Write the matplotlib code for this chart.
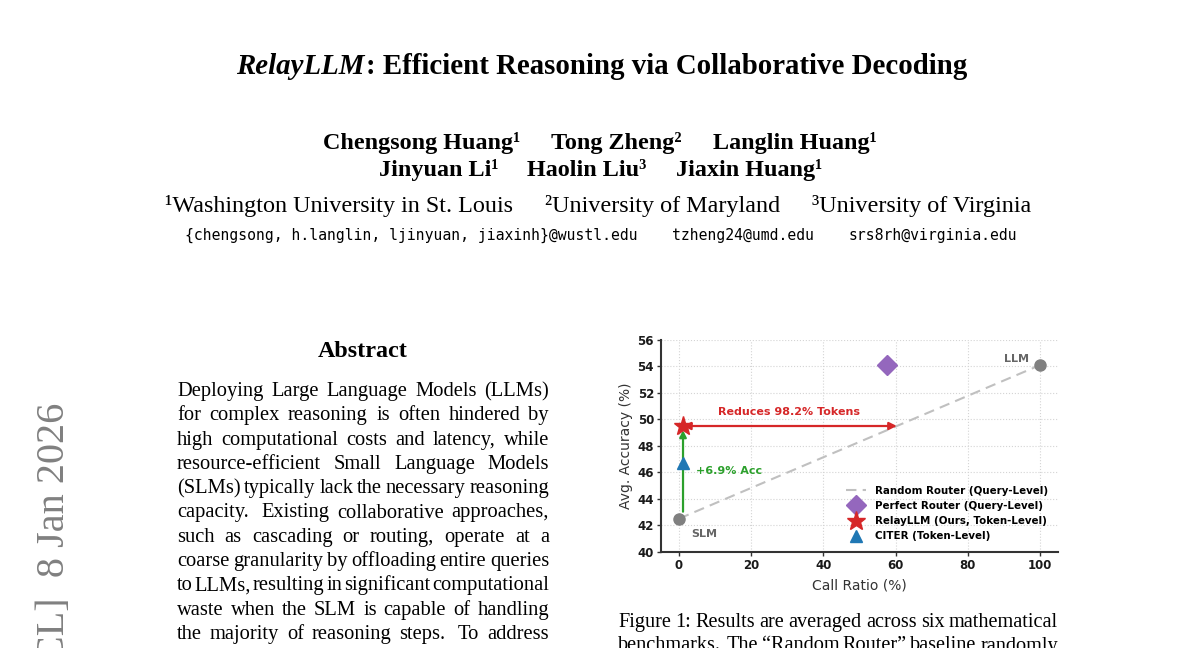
import matplotlib
matplotlib.use('Agg')
import matplotlib.pyplot as plt

W, H = 1200, 648

# ---- chart data ----
slm_llm_ratio = [0, 100]
slm_llm_acc = [42.5, 54.1]
perfect_ratio = [57.5]
perfect_acc = [54.1]
relay_ratio = [1.1]
relay_acc = [49.5]
citer_ratio = [1.1]
citer_acc = [46.7]
token_reduction = 98.2
acc_gain = 6.9
x_ticks = [0, 20, 40, 60, 80, 100]
y_ticks = [40, 42, 44, 46, 48, 50, 52, 54, 56]

# ---- page text ----
title_italic = 'RelayLLM'
title_rest = ': Efficient Reasoning via Collaborative Decoding'
authors_1 = ['Chengsong Huang¹', 'Tong Zheng²', 'Langlin Huang¹']
authors_2 = ['Jinyuan Li¹', 'Haolin Liu³', 'Jiaxin Huang¹']
affils = ['¹Washington University in St. Louis', '²University of Maryland', '³University of Virginia']
emails = ['{chengsong, h.langlin, ljinyuan, jiaxinh}@wustl.edu', 'tzheng24@umd.edu', 'srs8rh@virginia.edu']
abstract_lines = [
    'Deploying Large Language Models (LLMs)',
    'for complex reasoning is often hindered by',
    'high computational costs and latency, while',
    'resource-efficient Small Language Models',
    '(SLMs) typically lack the necessary reasoning',
    'capacity. Existing collaborative approaches,',
    'such as cascading or routing, operate at a',
    'coarse granularity by offloading entire queries',
    'to LLMs, resulting in significant computational',
    'waste when the SLM is capable of handling',
    'the majority of reasoning steps. To address',
]
caption_lines = [
    'Figure 1: Results are averaged across six mathematical',
    'benchmarks. The \u201cRandom Router\u201d baseline randomly',
]
stamp = '[cs.CL]  8 Jan 2026'

SERIF = 'Liberation Serif'

fig = plt.figure(figsize=(W / 100, H / 100), dpi=100)
fig.patch.set_facecolor('white')
renderer = fig.canvas.get_renderer()


def put(x, y, s, **kw):
    return fig.text(x / W, 1 - y / H, s, **kw)


def width_of(s, **kw):
    t = fig.text(0, 0, s, **kw)
    w = t.get_window_extent(renderer).width
    t.remove()
    return w


def justify(words, x0, x1, y, weights=None, **kw):
    ws = [width_of(w, **kw) for w in words]
    if weights is None:
        weights = [1.0] * (len(words) - 1)
    gap = (x1 - x0 - sum(ws)) / sum(weights)
    x = x0
    for i, (w, wd) in enumerate(zip(words, ws)):
        put(x, y, w, ha='left', va='baseline', **kw)
        if i < len(weights):
            x += wd + gap * weights[i]


def justify_line(line, x0, x1, y, **kw):
    words = line.split()
    weights = [1.6 if w.endswith('.') else 1.0 for w in words[:-1]]
    justify(words, x0, x1, y, weights, **kw)


# title (italic + upright parts)
tsize = 21.75
w1 = width_of(title_italic, family=SERIF, weight='bold', style='italic', fontsize=tsize)
w2 = width_of(title_rest, family=SERIF, weight='bold', fontsize=tsize)
tsize = tsize * 729 / (w1 + w2)
w1 = width_of(title_italic, family=SERIF, weight='bold', style='italic', fontsize=tsize)
put(236, 74, title_italic, family=SERIF, weight='bold', style='italic', fontsize=tsize, va='baseline')
put(236 + w1 + 2, 74, title_rest, family=SERIF, weight='bold', fontsize=tsize, va='baseline')

justify(authors_1, 323, 877, 149, family=SERIF, weight='bold', fontsize=17.4)
justify(authors_2, 379, 822, 176, family=SERIF, weight='bold', fontsize=17.4)
justify(affils, 165, 1031, 212, family=SERIF, fontsize=17.4)
justify(emails, 185, 1017, 240, family='DejaVu Sans Mono', fontsize=10.6)

put(363, 357, 'Abstract', family=SERIF, weight='bold', fontsize=17.4, ha='center', va='baseline')
for i, line in enumerate(abstract_lines):
    justify_line(line, 177, 549, 396 + i * 24.3, family=SERIF, fontsize=14.8)

for i, line in enumerate(caption_lines):
    justify_line(line, 618, 1058, 627 + i * 23.5, family=SERIF, fontsize=14.6)

put(55, 403, stamp, family=SERIF, fontsize=29, color='#808080', rotation=90, ha='center', va='top')

# ---- chart ----
red = '#d62728'
green = '#2ca02c'
purple = '#9467bd'
blue = '#1f77b4'
gray = '#808080'

ax = fig.add_axes([661 / W, 1 - 551.7 / H, (1058 - 661) / W, (551.7 - 340) / H])
ax.set_xlim(-5, 105)
ax.set_ylim(40, 56)
ax.set_xticks(x_ticks)
ax.set_yticks(y_ticks)
ax.grid(True, color='#d4d4d4', linestyle=':', linewidth=0.8)
ax.set_axisbelow(True)
for s in ['top', 'right']:
    ax.spines[s].set_visible(False)
for s in ['left', 'bottom']:
    ax.spines[s].set_linewidth(1.5)
    ax.spines[s].set_color('#333333')
ax.tick_params(length=3, width=1, labelsize=8.5, color='#333333', labelcolor='#1a1a1a', pad=2)
for lab in ax.get_xticklabels() + ax.get_yticklabels():
    lab.set_fontweight('bold')
ax.set_xlabel('Call Ratio (%)', fontsize=10, color='#333333', labelpad=5)
ax.set_ylabel('Avg. Accuracy (%)', fontsize=10, color='#333333', labelpad=3)

ax.plot(slm_llm_ratio, slm_llm_acc, color='#c0c0c0', linestyle='--', dashes=(5, 3), lw=1.5,
        label='Random Router (Query-Level)', zorder=2)

# arrows: RelayLLM vs random router at equal accuracy, and gain over SLM
slope = (slm_llm_acc[1] - slm_llm_acc[0]) / (slm_llm_ratio[1] - slm_llm_ratio[0])
match_ratio = slm_llm_ratio[0] + (relay_acc[0] - slm_llm_acc[0]) / slope
ax.annotate('', xy=(match_ratio, relay_acc[0]), xytext=(relay_ratio[0], relay_acc[0]),
            arrowprops=dict(arrowstyle='<|-|>', color=red, lw=1.6, mutation_scale=11,
                            shrinkA=0, shrinkB=0), zorder=3)
ax.annotate('', xy=(relay_ratio[0], relay_acc[0]), xytext=(relay_ratio[0], slm_llm_acc[0]),
            arrowprops=dict(arrowstyle='-|>', color=green, lw=1.6, mutation_scale=10,
                            shrinkA=5, shrinkB=3), zorder=3)

ax.plot(slm_llm_ratio, slm_llm_acc, 'o', color=gray, markersize=8, zorder=4)
ax.plot(perfect_ratio, perfect_acc, 'D', color=purple, markersize=10, zorder=4,
        linestyle='none', label='Perfect Router (Query-Level)')
ax.plot(citer_ratio, citer_acc, '^', color=blue, markersize=9, zorder=4,
        linestyle='none', label='CITER (Token-Level)')
ax.plot(relay_ratio, relay_acc, '*', color=red, markersize=14, zorder=5,
        linestyle='none', label='RelayLLM (Ours, Token-Level)')

ax.text(30.5, 50.55, f'Reduces {token_reduction}% Tokens', color=red, fontsize=8,
        fontweight='bold', ha='center', va='center')
ax.text(4.6, 46.1, f'+{acc_gain}% Acc', color=green, fontsize=8,
        fontweight='bold', ha='left', va='center')
ax.text(93.5, 54.55, 'LLM', color='#666666', fontsize=8, fontweight='bold', ha='center', va='center')
ax.text(6.9, 41.35, 'SLM', color='#666666', fontsize=8, fontweight='bold', ha='center', va='center')

handles, labels = ax.get_legend_handles_labels()
order = [0, 1, 3, 2]
ax.legend([handles[i] for i in order], [labels[i] for i in order], loc='upper left',
          bbox_to_anchor=(0.455, 0.33), frameon=False, prop={'weight': 'bold', 'size': 7.4},
          labelspacing=0.5, handletextpad=0.8, handlelength=2.0, borderaxespad=0)

fig.savefig('out.png', dpi=100, facecolor='white')
